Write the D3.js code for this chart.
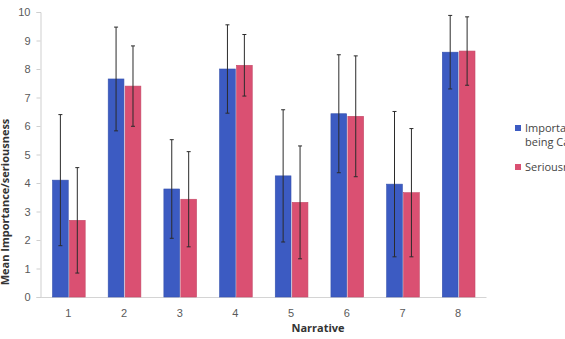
<!DOCTYPE html>
<html lang="en">
<head>
<meta charset="UTF-8">
<title>Narrative chart</title>
<script src="https://cdn.jsdelivr.net/npm/d3@7/dist/d3.min.js"></script>
<style>
  body { margin: 0; background: #fff; }
  svg { display: block; font-family: "Open Sans", "Liberation Sans", sans-serif; }
</style>
</head>
<body>
<svg width="565" height="339"></svg>
<script>
// data
var narratives = ["1", "2", "3", "4", "5", "6", "7", "8"];
var seriesNames = ["Importance of being Caught", "Seriousness"];
var importance = [4.1, 7.65, 3.79, 8.0, 4.25, 6.43, 3.96, 8.59];
var importanceErr = [2.3, 1.82, 1.73, 1.55, 2.32, 2.07, 2.55, 1.29];
var seriousness = [2.69, 7.4, 3.43, 8.13, 3.32, 6.34, 3.66, 8.63];
var seriousnessErr = [1.85, 1.41, 1.67, 1.08, 1.98, 2.12, 2.25, 1.2];
var yTicks = [0, 1, 2, 3, 4, 5, 6, 7, 8, 9, 10];

var colors = ["#3c5bc2", "#da5072"];
var svg = d3.select("svg");
var margin = {top: 12, left: 40.5, right: 79, bottom: 42};
var width = 565 - margin.left - margin.right;
var height = 339 - margin.top - margin.bottom;

var g = svg.append("g").attr("transform", "translate(" + margin.left + "," + margin.top + ")");

var x0 = d3.scaleBand().domain(narratives).range([0, width]);
var x1 = d3.scaleBand().domain([0, 1]).range([12, x0.bandwidth() - 11]).paddingInner(0.07);
var y = d3.scaleLinear().domain([0, 10]).range([height, 0]);

// y axis
var yAxis = g.append("g").call(d3.axisLeft(y).tickValues(yTicks).tickSize(4).tickPadding(6));
yAxis.select(".domain").attr("stroke", "#cfcfcf");
yAxis.selectAll(".tick line").attr("stroke", "#cfcfcf");
yAxis.selectAll("text").attr("fill", "#5a5a5a").style("font-size", "11px");

// x axis
var xAxis = g.append("g").attr("transform", "translate(0," + height + ")")
  .call(d3.axisBottom(x0).tickSize(0).tickPadding(12));
xAxis.select(".domain").attr("stroke", "#d4d4d4");
xAxis.selectAll("text").attr("fill", "#5a5a5a").style("font-size", "11px");

var series = [
  {vals: importance, err: importanceErr},
  {vals: seriousness, err: seriousnessErr}
];

series.forEach(function(s, si) {
  var sg = g.append("g");
  sg.selectAll("rect").data(s.vals).enter().append("rect")
    .attr("x", function(d, i) { return x0(narratives[i]) + x1(si); })
    .attr("y", function(d) { return y(d); })
    .attr("width", x1.bandwidth())
    .attr("height", function(d) { return height - y(d); })
    .attr("fill", colors[si])
    .attr("stroke", d3.color(colors[si]).darker(0.3))
    .attr("stroke-width", 0.6);

  var eg = g.append("g").attr("stroke", "#2b2b2b").attr("stroke-width", 1);
  s.vals.forEach(function(v, i) {
    var cx = x0(narratives[i]) + x1(si) + x1.bandwidth() / 2;
    var lo = y(v - s.err[i]), hi = y(v + s.err[i]);
    eg.append("line").attr("x1", cx).attr("x2", cx).attr("y1", lo).attr("y2", hi);
    eg.append("line").attr("x1", cx - 2).attr("x2", cx + 2).attr("y1", lo).attr("y2", lo);
    eg.append("line").attr("x1", cx - 2).attr("x2", cx + 2).attr("y1", hi).attr("y2", hi);
  });
});

// axis titles
svg.append("text")
  .attr("transform", "translate(9," + 202 + ") rotate(-90)")
  .attr("text-anchor", "middle")
  .attr("fill", "#333")
  .style("font-size", "11px").style("font-weight", "bold")
  .text("Mean Importance/seriousness");

svg.append("text")
  .attr("x", 318).attr("y", 332)
  .attr("text-anchor", "middle")
  .attr("fill", "#333")
  .style("font-size", "11px").style("font-weight", "bold")
  .text("Narrative");

// legend
var legend = svg.append("g").attr("transform", "translate(515,125)");
legend.append("rect").attr("width", 6).attr("height", 6).attr("fill", colors[0]);
legend.append("text").attr("x", 10).attr("y", 7).attr("fill", "#444").style("font-size", "11px").text("Importance of");
legend.append("text").attr("x", 10).attr("y", 21).attr("fill", "#444").style("font-size", "11px").text("being Caught");
legend.append("rect").attr("y", 39).attr("width", 6).attr("height", 6).attr("fill", colors[1]);
legend.append("text").attr("x", 10).attr("y", 46).attr("fill", "#444").style("font-size", "11px").text(seriesNames[1]);
</script>
</body>
</html>
